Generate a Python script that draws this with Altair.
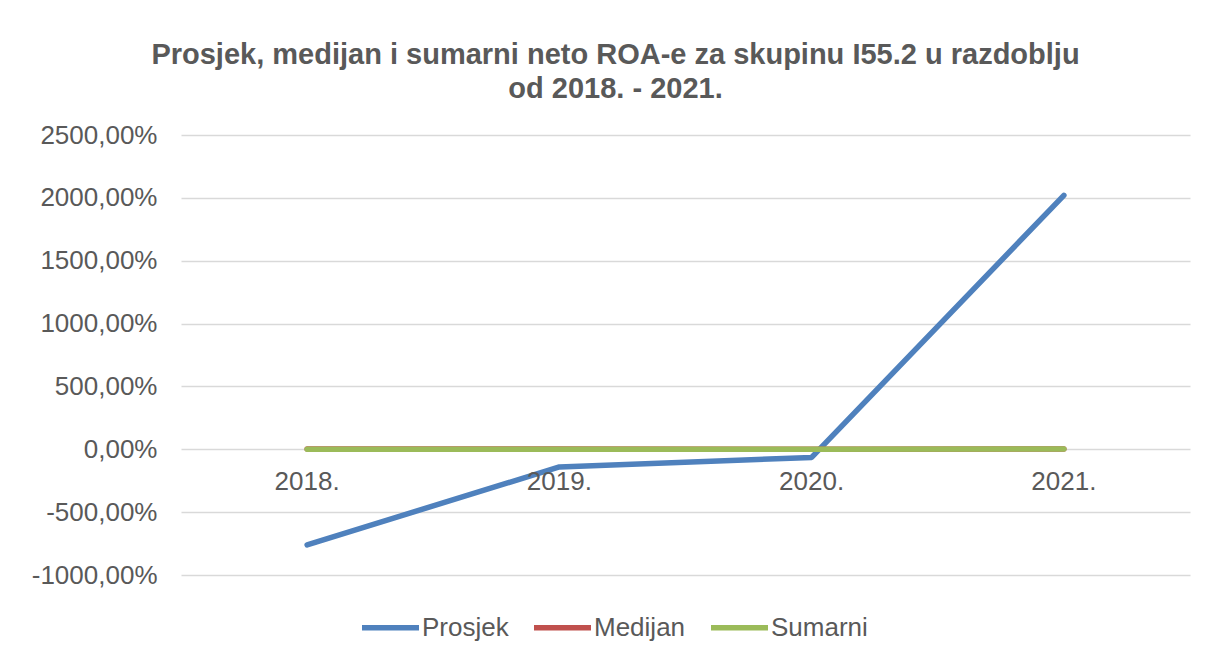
import altair as alt
import pandas as pd

years = ["2018.", "2019.", "2020.", "2021."]
prosjek = [-760.0, -140.0, -65.0, 2020.0]
medijan = [2.0, 1.5, 0.5, 3.0]
sumarni = [1.0, 1.0, -0.5, 2.0]
series = ["Prosjek", "Medijan", "Sumarni"]
colors = ["#4f81bd", "#c0504d", "#9bbb59"]
y_ticks = [-1000, -500, 0, 500, 1000, 1500, 2000, 2500]

rows = []
for name, vals in zip(series, [prosjek, medijan, sumarni]):
    for yr, v in zip(years, vals):
        rows.append({"Godina": yr, "Vrijednost": v, "Serija": name, "order": series.index(name)})
df = pd.DataFrame(rows)
lab_df = pd.DataFrame({"Godina": years})

W, H = 1009, 440

xs = alt.X("Godina:N", sort=years,
           scale=alt.Scale(type="point", padding=0.5),
           axis=None)

lines = alt.Chart(df).mark_line(strokeWidth=5.5, strokeCap="round", strokeJoin="round").encode(
    x=xs,
    y=alt.Y("Vrijednost:Q",
            scale=alt.Scale(domain=[-1000, 2500], nice=False, zero=False),
            axis=alt.Axis(values=y_ticks, title=None, domain=False, ticks=False,
                          grid=True, gridColor="#d9d9d9", gridWidth=1.3,
                          labelFontSize=26, labelColor="#595959", labelFont="Liberation Sans",
                          labelPadding=24,
                          labelExpr="replace(replace(format(datum.value, '.2f'), '.', ','), '\u2212', '-') + '%'")),
    color=alt.Color("Serija:N", sort=series,
                    scale=alt.Scale(domain=series, range=colors),
                    legend=alt.Legend(title=None, orient="none", direction="horizontal",
                                      legendX=178, legendY=461,
                                      symbolType="stroke", symbolSize=3249, symbolStrokeWidth=5.5,
                                      labelFontSize=26, labelColor="#595959", labelFont="Liberation Sans",
                                      labelOffset=0, columnPadding=14, padding=0)),
    order=alt.Order("order:Q"),
    detail="Serija:N",
)

labels = alt.Chart(lab_df).mark_text(
    fontSize=26, color="#595959", font="Liberation Sans", baseline="middle", dy=33
).encode(
    x=xs,
    y=alt.datum(0),
    text="Godina:N",
)

chart = alt.layer(lines, labels).properties(
    width=W, height=H,
    autosize=alt.AutoSizeParams(type="none"),
    padding={"left": 173, "top": 127, "right": 8, "bottom": 70},
    title=alt.TitleParams(
        text=["Prosjek, medijan i sumarni neto ROA-e za skupinu I55.2 u razdoblju", "od 2018. - 2021."],
        fontSize=29, fontWeight="bold", color="#595959", font="Liberation Sans",
        anchor="middle", offset=18, lineHeight=34, dx=-70,
    ),
).configure_view(stroke=None)

chart.save("out.html", embed_options={"renderer": "svg", "actions": False})
